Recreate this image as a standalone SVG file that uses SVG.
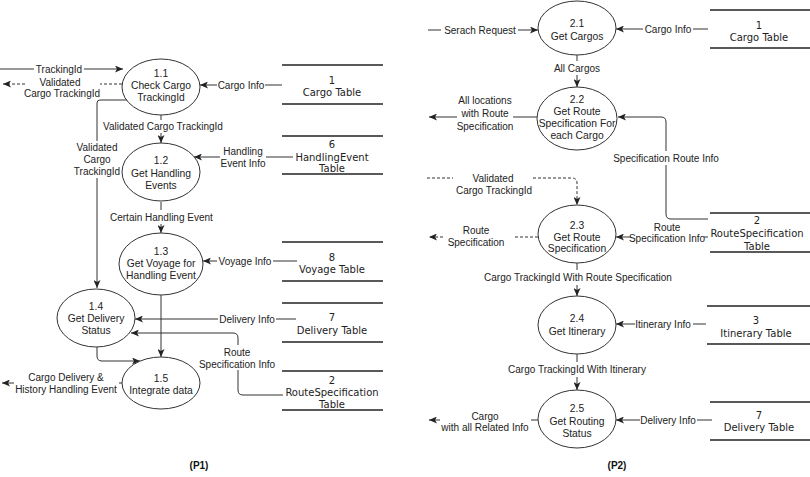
<svg xmlns="http://www.w3.org/2000/svg" width="810" height="477" viewBox="0 0 810 477">
<style>
.bg{fill:#fff}
.proc{fill:#fff;stroke:#333;stroke-width:1}
.store{stroke:#222;stroke-width:1.6}
.c{fill:none;stroke:#333;stroke-width:1}
.d{fill:none;stroke:#333;stroke-width:1;stroke-dasharray:3,2}
.lbl{font-family:"Liberation Sans",Arial,sans-serif;font-size:10px;fill:#222;text-anchor:middle}
.lbs{font-family:"Liberation Sans",Arial,sans-serif;font-size:10px;fill:#222;text-anchor:start}
.nt{font-family:"Liberation Sans",Arial,sans-serif;font-size:10.3px;fill:#222;text-anchor:middle}
.tt{font-family:"DejaVu Sans",Verdana,sans-serif;font-size:10px;fill:#222;text-anchor:middle}
.cap{font-family:"Liberation Sans",Arial,sans-serif;font-size:10px;font-weight:bold;fill:#111;text-anchor:middle}
</style>
<defs>
<marker id="ah" markerUnits="userSpaceOnUse" markerWidth="8" markerHeight="7" refX="8" refY="3.5" orient="auto">
<path d="M0,0 L8,3.5 L0,7 L2,3.5 z" fill="#222"/>
</marker>
</defs>
<rect class="bg" x="0" y="0" width="810" height="477"/>

<g id="connectors">
<!-- P1 -->
<path class="c" d="M0,69 H34 M84,69 H123" marker-end="url(#ah)"/>
<text class="lbl" x="59" y="72.5">TrackingId</text>
<path class="d" d="M122,84 H100 M25,84 H3" marker-end="url(#ah)"/>
<text class="lbl" x="60" y="86">Validated</text>
<text class="lbl" x="62" y="97">Cargo TrackingId</text>
<path class="c" d="M127,100 H100 Q97,100 97,103 V141 M97,178 V288" marker-end="url(#ah)"/>
<text class="lbl" x="97" y="150.5">Validated</text>
<text class="lbl" x="97" y="162.5">Cargo</text>
<text class="lbl" x="97" y="174.5">TrackingId</text>
<path class="c" d="M161,115 V120 M161,133 V143" marker-end="url(#ah)"/>
<text class="lbs" x="103" y="129.5">Validated Cargo TrackingId</text>
<path class="c" d="M282,85 H265 M217,85 H200" marker-end="url(#ah)"/>
<text class="lbl" x="241" y="88.5">Cargo Info</text>
<path class="c" d="M293,157 H266 M220,157 H194" marker-end="url(#ah)"/>
<text class="lbl" x="243" y="154.5">Handling</text>
<text class="lbl" x="243" y="166.5">Event Info</text>
<path class="c" d="M161,202 V210 M161,224 V233" marker-end="url(#ah)"/>
<text class="lbs" x="110" y="220.5">Certain Handling Event</text>
<path class="c" d="M297,261 H273 M217,261 H203" marker-end="url(#ah)"/>
<text class="lbl" x="245" y="264.5">Voyage Info</text>
<path class="c" d="M296,319 H276 M218,319 H135" marker-end="url(#ah)"/>
<text class="lbl" x="247" y="322.5">Delivery Info</text>
<path class="c" d="M283,395 H243 Q238,395 238,390 V370 M238,345 V338 Q238,333 233,333 H131" marker-end="url(#ah)"/>
<text class="lbl" x="237" y="355.5">Route</text>
<text class="lbl" x="237" y="367.5">Specification Info</text>
<path class="c" d="M161,295 V357" marker-end="url(#ah)"/>
<path class="c" d="M97,347 V356 Q97,361 102,361 H140" marker-end="url(#ah)"/>
<path class="c" d="M123,383 H119 M14,383 H2" marker-end="url(#ah)"/>
<text class="lbl" x="66" y="380.5">Cargo Delivery &amp;</text>
<text class="lbl" x="66" y="392.5">History Handling Event</text>

<!-- P2 -->
<path class="c" d="M428,30 H441 M518,30 H538" marker-end="url(#ah)"/>
<text class="lbl" x="480" y="33.5">Serach Request</text>
<path class="c" d="M708,29 H693 M643,29 H616" marker-end="url(#ah)"/>
<text class="lbl" x="668" y="32.5">Cargo Info</text>
<path class="c" d="M577,55 V61 M577,75 V87" marker-end="url(#ah)"/>
<text class="lbl" x="577" y="71.5">All Cargos</text>
<path class="c" d="M537,117 H513 M457,117 H429" marker-end="url(#ah)"/>
<text class="lbl" x="485" y="103.5">All locations</text>
<text class="lbl" x="485" y="116.5">with Route</text>
<text class="lbl" x="485" y="129.5">Specification</text>
<path class="c" d="M708,219 H671 Q666,219 666,214 V165 M666,151 V122 Q666,117 661,117 H618" marker-end="url(#ah)"/>
<text class="lbl" x="666" y="161.5">Specification Route Info</text>
<path class="d" d="M427,178 H453 M533,178 H572 Q577,178 577,183 V205" marker-end="url(#ah)"/>
<text class="lbl" x="493" y="182">Validated</text>
<text class="lbl" x="494" y="194">Cargo TrackingId</text>
<path class="d" d="M538,237 H515 M443,237 H429" marker-end="url(#ah)"/>
<text class="lbl" x="476" y="234">Route</text>
<text class="lbl" x="476" y="246">Specification</text>
<path class="c" d="M708,237 H704 M631,237 H616" marker-end="url(#ah)"/>
<text class="lbl" x="667" y="230.5">Route</text>
<text class="lbl" x="667" y="242">Specification Info</text>
<path class="c" d="M577,263 V270 M577,285 V296" marker-end="url(#ah)"/>
<text class="lbl" x="578" y="281">Cargo TrackingId With Route Specification</text>
<path class="c" d="M706,324 H693 M635,324 H616" marker-end="url(#ah)"/>
<text class="lbl" x="663" y="327.5">Itinerary Info</text>
<path class="c" d="M577,354 V362 M577,377 V390" marker-end="url(#ah)"/>
<text class="lbl" x="577" y="373">Cargo TrackingId With Itinerary</text>
<path class="c" d="M712,420 H697 M640,420 H616" marker-end="url(#ah)"/>
<text class="lbl" x="668" y="423.5">Delivery Info</text>
<path class="c" d="M538,420 H531 M440,420 H429" marker-end="url(#ah)"/>
<text class="lbl" x="485" y="420">Cargo</text>
<text class="lbl" x="485" y="431">with all Related Info</text>
</g>

<!-- P1 processes -->
<g id="p1-1">
<ellipse class="proc" cx="161" cy="87" rx="39" ry="28"/>
<text class="nt" x="161" y="76.5">1.1</text>
<text class="nt" x="161" y="88.5">Check Cargo</text>
<text class="nt" x="161" y="100.5">TrackingId</text>
</g>
<g id="p1-2">
<ellipse class="proc" cx="161" cy="172" rx="39" ry="29"/>
<text class="nt" x="161" y="164">1.2</text>
<text class="nt" x="161" y="176.5">Get Handling</text>
<text class="nt" x="161" y="188.5">Events</text>
</g>
<g id="p1-3">
<ellipse class="proc" cx="161" cy="264" rx="42" ry="31"/>
<text class="nt" x="161" y="254.5">1.3</text>
<text class="nt" x="161" y="266.5">Get Voyage for</text>
<text class="nt" x="161" y="278.5">Handling Event</text>
</g>
<g id="p1-4">
<ellipse class="proc" cx="96" cy="318" rx="39" ry="29"/>
<text class="nt" x="96" y="309.5">1.4</text>
<text class="nt" x="96" y="321.5">Get Delivery</text>
<text class="nt" x="96" y="334">Status</text>
</g>
<g id="p1-5">
<ellipse class="proc" cx="161" cy="383" rx="39" ry="26"/>
<text class="nt" x="161" y="381.5">1.5</text>
<text class="nt" x="161" y="393.5">Integrate data</text>
</g>

<!-- P1 stores -->
<g id="s1-cargo">
<line class="store" x1="282" y1="65" x2="383" y2="65"/>
<line class="store" x1="282" y1="104" x2="383" y2="104"/>
<text class="tt" x="332" y="83.5">1</text>
<text class="tt" x="332" y="95.5">Cargo Table</text>
</g>
<g id="s1-handling">
<line class="store" x1="282" y1="136" x2="383" y2="136"/>
<line class="store" x1="282" y1="174" x2="383" y2="174"/>
<text class="tt" x="332" y="147.5">6</text>
<text class="tt" x="332" y="160.5">HandlingEvent</text>
<text class="tt" x="332" y="172">Table</text>
</g>
<g id="s1-voyage">
<line class="store" x1="282" y1="242" x2="383" y2="242"/>
<line class="store" x1="282" y1="281" x2="383" y2="281"/>
<text class="tt" x="332" y="260.5">8</text>
<text class="tt" x="332" y="272.5">Voyage Table</text>
</g>
<g id="s1-delivery">
<line class="store" x1="282" y1="303" x2="383" y2="303"/>
<line class="store" x1="282" y1="342" x2="383" y2="342"/>
<text class="tt" x="332" y="320.5">7</text>
<text class="tt" x="332" y="333.5">Delivery Table</text>
</g>
<g id="s1-routespec">
<line class="store" x1="282" y1="371" x2="383" y2="371"/>
<line class="store" x1="282" y1="410" x2="383" y2="410"/>
<text class="tt" x="332" y="383.5">2</text>
<text class="tt" x="332" y="395.5">RouteSpecification</text>
<text class="tt" x="332" y="407.5">Table</text>
</g>

<!-- P2 processes -->
<g id="p2-1">
<ellipse class="proc" cx="577" cy="28" rx="39" ry="27"/>
<text class="nt" x="577" y="26.5">2.1</text>
<text class="nt" x="577" y="39.5">Get Cargos</text>
</g>
<g id="p2-2">
<ellipse class="proc" cx="577" cy="118.5" rx="40" ry="31.5"/>
<text class="nt" x="577" y="102.5">2.2</text>
<text class="nt" x="577" y="114.5">Get Route</text>
<text class="nt" x="577" y="126.5">Specification For</text>
<text class="nt" x="577" y="138.5">each Cargo</text>
</g>
<g id="p2-3">
<ellipse class="proc" cx="577" cy="234" rx="39" ry="29"/>
<text class="nt" x="577" y="228.5">2.3</text>
<text class="nt" x="577" y="240.5">Get Route</text>
<text class="nt" x="577" y="252">Specification</text>
</g>
<g id="p2-4">
<ellipse class="proc" cx="577" cy="325" rx="39" ry="29"/>
<text class="nt" x="577" y="321.5">2.4</text>
<text class="nt" x="577" y="334.5">Get Itinerary</text>
</g>
<g id="p2-5">
<ellipse class="proc" cx="577" cy="419" rx="39" ry="29"/>
<text class="nt" x="577" y="412">2.5</text>
<text class="nt" x="577" y="424.5">Get Routing</text>
<text class="nt" x="577" y="436.5">Status</text>
</g>

<!-- P2 stores -->
<g id="s2-cargo">
<line class="store" x1="710" y1="10" x2="810" y2="10"/>
<line class="store" x1="710" y1="48" x2="810" y2="48"/>
<text class="tt" x="759" y="28.5">1</text>
<text class="tt" x="759" y="40.5">Cargo Table</text>
</g>
<g id="s2-routespec">
<line class="store" x1="710" y1="213" x2="810" y2="213"/>
<line class="store" x1="710" y1="252" x2="810" y2="252"/>
<text class="tt" x="757" y="223.5">2</text>
<text class="tt" x="757" y="236.5">RouteSpecification</text>
<text class="tt" x="757" y="249.5">Table</text>
</g>
<g id="s2-itinerary">
<line class="store" x1="707" y1="306" x2="810" y2="306"/>
<line class="store" x1="707" y1="344" x2="810" y2="344"/>
<text class="tt" x="756" y="323.5">3</text>
<text class="tt" x="756" y="336.5">Itinerary Table</text>
</g>
<g id="s2-delivery">
<line class="store" x1="710" y1="402" x2="810" y2="402"/>
<line class="store" x1="710" y1="440" x2="810" y2="440"/>
<text class="tt" x="759" y="418.5">7</text>
<text class="tt" x="759" y="431">Delivery Table</text>
</g>

<text class="cap" x="199" y="469">(P1)</text>
<text class="cap" x="617" y="469">(P2)</text>
</svg>
